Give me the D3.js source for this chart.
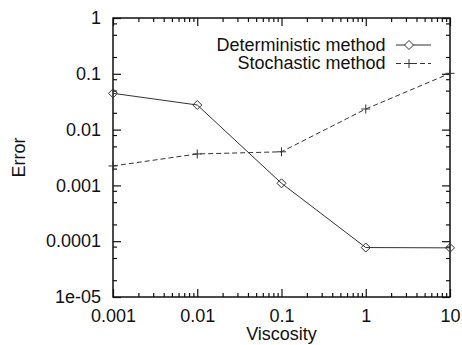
<!DOCTYPE html>
<html>
<head>
<meta charset="utf-8">
<script src="https://cdn.jsdelivr.net/npm/d3@7"></script>
<style>
  body { margin: 0; background: #fff; }
  svg { display: block; }
  text { font-family: "Liberation Sans", Arial, Helvetica, sans-serif; font-size: 18px; fill: #111; }
</style>
</head>
<body>
<svg id="chart" width="462" height="345"></svg>
<script>
// 数据
const viscosity = [0.001, 0.01, 0.1, 1, 10];
const deterministic = [0.0447, 0.0276, 0.00109, 0.000077, 0.000076];
const stochastic = [0.00223, 0.00366, 0.0040, 0.0234, 0.102];
const seriesNames = ["Deterministic method", "Stochastic method"];
const xTickValues = [0.001, 0.01, 0.1, 1, 10];
const xTickLabels = ["0.001", "0.01", "0.1", "1", "10"];
const yTickValues = [1, 0.1, 0.01, 0.001, 0.0001, 0.00001];
const yTickLabels = ["1", "0.1", "0.01", "0.001", "0.0001", "1e-05"];

const svg = d3.select("#chart");
const width = +svg.attr("width");
const height = +svg.attr("height");
const margin = { top: 18, right: 12, bottom: 48, left: 113 };

const x = d3.scaleLog().domain([0.001, 10]).range([margin.left, width - margin.right]);
const y = d3.scaleLog().domain([0.00001, 1]).range([height - margin.bottom, margin.top]);

// 次刻度：x 轴每个十进位 2..9，y 轴只有 2、5、8
const xMinor = [];
for (let e = -3; e < 1; e++) for (let m = 2; m <= 9; m++) xMinor.push(m * Math.pow(10, e));
const yMinor = [];
for (let e = -5; e < 0; e++) [2, 5, 8].forEach(m => yMinor.push(m * Math.pow(10, e)));

function addAxis(axisFn, scale, values, size, transform, labels) {
    const g = svg.append("g")
        .attr("transform", transform)
        .call(axisFn(scale)
            .tickValues(values)
            .tickSizeInner(-size)
            .tickSizeOuter(0)
            .tickPadding(labels ? 12 : 0)
            .tickFormat((d, i) => labels ? labels[i] : ""));
    g.select(".domain").remove();
    g.selectAll("line").attr("stroke", "#111").attr("stroke-width", 1.2);
    g.selectAll("text").attr("font-size", null).attr("font-family", null).attr("fill", "#111");
    return g;
}

const tBottom = `translate(0,${height - margin.bottom})`;
const tTop = `translate(0,${margin.top})`;
const tLeft = `translate(${margin.left},0)`;
const tRight = `translate(${width - margin.right},0)`;

addAxis(d3.axisBottom, x, xTickValues, 8, tBottom, xTickLabels);
addAxis(d3.axisBottom, x, xMinor, 4, tBottom, null);
addAxis(d3.axisTop, x, xTickValues, 8, tTop, null);
addAxis(d3.axisTop, x, xMinor, 4, tTop, null);
addAxis(d3.axisLeft, y, yTickValues, 8, tLeft, yTickLabels);
addAxis(d3.axisLeft, y, yMinor, 4, tLeft, null);
addAxis(d3.axisRight, y, yTickValues, 8, tRight, null);
addAxis(d3.axisRight, y, yMinor, 4, tRight, null);

// 边框
svg.append("rect")
    .attr("x", margin.left).attr("y", margin.top)
    .attr("width", width - margin.left - margin.right)
    .attr("height", height - margin.top - margin.bottom)
    .attr("fill", "none").attr("stroke", "#111").attr("stroke-width", 1.5);

// 坐标轴标题
svg.append("text")
    .attr("x", (margin.left + width - margin.right) / 2)
    .attr("y", 340)
    .attr("text-anchor", "middle")
    .text("Viscosity");
svg.append("text")
    .attr("transform", `translate(25,${(margin.top + height - margin.bottom) / 2}) rotate(-90)`)
    .attr("text-anchor", "middle")
    .text("Error");

const line = d3.line().x(d => x(d[0])).y(d => y(d[1]));
const detPts = viscosity.map((v, i) => [v, deterministic[i]]);
const stoPts = viscosity.map((v, i) => [v, stochastic[i]]);

const diamond = (cx, cy, r) => `M${cx},${cy - r}L${cx + r},${cy}L${cx},${cy + r}L${cx - r},${cy}Z`;
const plus = (cx, cy, r) => `M${cx - r},${cy}H${cx + r}M${cx},${cy - r}V${cy + r}`;

// 确定性方法：实线 + 菱形
svg.append("path").datum(detPts).attr("d", line)
    .attr("fill", "none").attr("stroke", "#333").attr("stroke-width", 1);
svg.selectAll(".det").data(detPts).enter().append("path")
    .attr("class", "det")
    .attr("d", d => diamond(x(d[0]), y(d[1]), 4.5))
    .attr("fill", "none").attr("stroke", "#333").attr("stroke-width", 1);

// 随机方法：虚线 + 加号
svg.append("path").datum(stoPts).attr("d", line)
    .attr("fill", "none").attr("stroke", "#333").attr("stroke-width", 1)
    .attr("stroke-dasharray", "5,3");
svg.selectAll(".sto").data(stoPts).enter().append("path")
    .attr("class", "sto")
    .attr("d", d => plus(x(d[0]), y(d[1]), 4.5))
    .attr("fill", "none").attr("stroke", "#333").attr("stroke-width", 1);

// 图例
const legend = svg.append("g");
const rows = [
    { name: seriesNames[0], dash: null, mark: diamond, yy: 45 },
    { name: seriesNames[1], dash: "5,3", mark: plus, yy: 63.5 }
];
rows.forEach(r => {
    legend.append("text")
        .attr("x", 385.5).attr("y", r.yy).attr("dy", "0.32em")
        .attr("text-anchor", "end").text(r.name);
    legend.append("line")
        .attr("x1", 396).attr("x2", 431).attr("y1", r.yy).attr("y2", r.yy)
        .attr("stroke", "#333").attr("stroke-width", 1)
        .attr("stroke-dasharray", r.dash);
    legend.append("path")
        .attr("d", r.mark(409, r.yy, 4.5))
        .attr("fill", "#fff").attr("stroke", "#333").attr("stroke-width", 1);
});
</script>
</body>
</html>
